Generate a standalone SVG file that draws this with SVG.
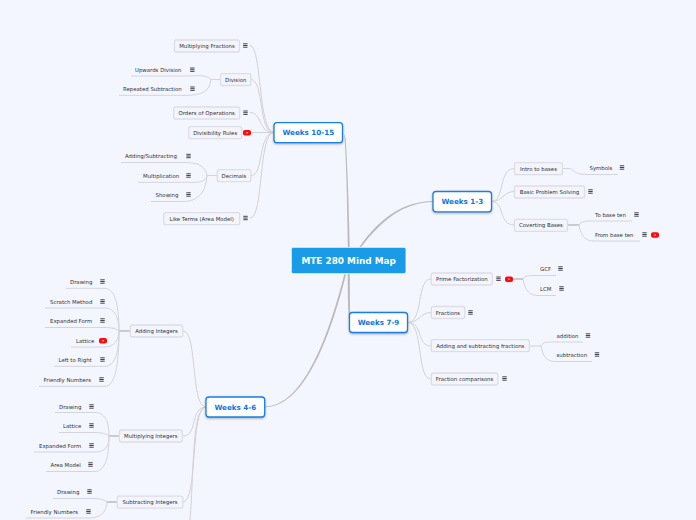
<svg xmlns="http://www.w3.org/2000/svg" width="696" height="520" viewBox="0 0 696 520">
<style>
text{font-family:"DejaVu Sans",Verdana,sans-serif;font-size:5.4px;fill:#2f2f36}
.b{fill:#f4f5fc;stroke:#dcdde6;stroke-width:1.3}
.w{fill:#fff;stroke:#1a7fe0;stroke-width:1.3;filter:drop-shadow(0 1px 1px rgba(0,0,0,.3))}
.wt{font-size:7.15px;font-weight:bold;fill:#0f76e2;text-anchor:middle}
.m{text-anchor:middle}
.c{fill:none;stroke:#d2d2d6;stroke-width:1}
.u{fill:none;stroke:#d4d4da;stroke-width:1}
.t{fill:#bababa}
.s{fill:none;stroke:#bcbcbc;stroke-width:1.5}
</style>
<defs>
<g id="i"><path d="M-2.2,-1.7H2.2M-2.2,0H2.2M-2.2,1.7H2.2" stroke="#22222a" stroke-width=".85" fill="none"/></g>
<g id="r"><rect x="-4" y="-2.8" width="8" height="5.6" rx="2" fill="#fb0a10"/><circle r=".8" fill="#ffd8d8"/></g>
</defs>
<rect width="696" height="520" fill="#f4f6ff"/>
<g id="connectors">
<path class="t" d="M347.8,247C347.3,200 346.200,165 344.700,140Q344.300,133.500 342.500,131.900L342.500,133.100Q345,134 345.800,140C347.300,165 348.800,200 349.800,247Z"/>
<path class="t" d="M359.400,247C380,218 403,201.500 433,201.100V201.900C404,202.200 381.500,220 360.800,247.600Z"/>
<path class="t" d="M347.700,274C347.800,295 348,315 349.500,322H351C349.800,312 349.900,295 349.800,274Z"/>
<path class="t" d="M344.400,274C330,330 305,406 265,406.500V407.200C306,407 331.500,332 346,274.500Z"/>
<path class="c" d="M250,45.500C262,45.500 258,132.500 274,132.500"/>
<path class="c" d="M251,79.500C264,79.500 258,132.500 274,132.500"/>
<path class="c" d="M250,112.500C262,112.500 258,132.500 274,132.500"/>
<path class="c" d="M251,132.500H274"/>
<path class="c" d="M251,175.500C264,175.500 258,132.500 274,132.500"/>
<path class="c" d="M250,218C264,218 258,132.500 274,132.500"/>
<path class="u" d="M131,76H187C198,76 205,74 211,79.500H220"/>
<path class="u" d="M119,95.300H187C200,95.300 210,92 211,79.500"/>
<path class="u" d="M121,162.500H183C195,162.500 205,164 207,175.500H217"/>
<path class="u" d="M138,182.300H183C195,182.300 205,184 207,175.500"/>
<path class="u" d="M151,201.500H183C198,201.500 206,192 207,175.500"/>
<path class="c" d="M491.500,201.500C505,201.500 498,168.500 514.500,168.500"/>
<path class="c" d="M491.500,201.500C503,201.500 503,191.500 514.500,191.500"/>
<path class="c" d="M491.500,201.500C505,201.500 498,225 514.500,225"/>
<path class="u" d="M563,168.500H570C575,171 575,174.500 587,174.500H618"/>
<path class="s" d="M568,225H579"/>
<path class="u" d="M579,225C581,221 586,221 592,221H632"/>
<path class="u" d="M579,225C581,237 586,241 594,241H640"/>
<path class="c" d="M407.500,322.500C424,322.500 416,279 431,279"/>
<path class="c" d="M407.500,322.500C420,322.500 420,312.500 431,312.500"/>
<path class="c" d="M407.500,322.500C424,322.500 416,346 431,346"/>
<path class="c" d="M407.500,322.500C424,322.500 416,379 431,379"/>
<path class="s" d="M513,279H523"/>
<path class="u" d="M523,279C525,275.500 530,275.500 535,275.500H556"/>
<path class="u" d="M523,279C525,291 530,295.500 538,295.500H556"/>
<path class="c" d="M529.500,346H541"/>
<path class="u" d="M541,346C543,342 547,342 553,342H583"/>
<path class="u" d="M541,346C543,357 547,361.500 555,361.500H592"/>
<path class="c" d="M183,331C198,331 190,407 206,407"/>
<path class="c" d="M183,436C198,436 190,407 206,407"/>
<path class="c" d="M183,502C198,502 190,407 206,407"/>
<path class="c" d="M190,520C194,470 192,407 206,407"/>
<path class="s" d="M119,331H130"/>
<path class="u" d="M66,288.300H105C113,288.300 119,300 119,331"/>
<path class="u" d="M45,308H105C115,308 119,318 119,331"/>
<path class="u" d="M45,327.500H105C112,327.500 117,329 119,331"/>
<path class="u" d="M71,347H105C114,347 119,340 119,331"/>
<path class="u" d="M54,366.300H105C114,366.300 119,355 119,331"/>
<path class="u" d="M39,386.300H105C115,386.300 119,365 119,331"/>
<path class="s" d="M109,436H119"/>
<path class="u" d="M55,412.500H95C104,412.500 109,420 109,436"/>
<path class="u" d="M59,432.500H95C102,432.500 107,434 109,436"/>
<path class="u" d="M34,452H95C104,452 109,448 109,436"/>
<path class="u" d="M46,471.500H95C104,471.500 109,460 109,436"/>
<path class="s" d="M107,502H117"/>
<path class="u" d="M53,498.500H93C99,498.500 103,499 107,502"/>
<path class="u" d="M26,518H90C100,518 107,512 107,502"/>
</g>
<g id="root"><rect x="291.300" y="247.300" width="114.700" height="26.400" rx="2" fill="#1a9be8" stroke="#fff" stroke-width=".8"/><text x="348.700" y="264" class="m" style="font-size:8.9px;font-weight:bold;fill:#fff">MTE 280 Mind Map</text></g>
<g id="w1015"><rect class="w" x="274" y="122.700" width="68.500" height="20" rx="3"/><text x="308.300" y="135.200" class="wt">Weeks 10-15</text></g>
<g id="w13"><rect class="w" x="433" y="191.500" width="58.500" height="20.300" rx="3"/><text x="462.300" y="204.200" class="wt">Weeks 1-3</text></g>
<g id="w79"><rect class="w" x="349.500" y="312.500" width="58" height="20" rx="3"/><text x="378.500" y="325.200" class="wt">Weeks 7-9</text></g>
<g id="w46"><rect class="w" x="206" y="397" width="58.700" height="20" rx="3"/><text x="235.300" y="409.700" class="wt">Weeks 4-6</text></g>
<g id="n1"><rect class="b" x="174.500" y="40" width="65" height="12" rx="2"/><text x="207" y="48" class="m">Multiplying Fractions</text><use href="#i" x="245.300" y="45.500"/></g>
<g id="n2"><rect class="b" x="220.500" y="73.700" width="30.300" height="11.800" rx="2"/><text x="235.700" y="81.700" class="m">Division</text></g>
<g id="n3"><text x="135" y="72">Upwards Division</text><use href="#i" x="192.300" y="69.700"/></g>
<g id="n4"><text x="123" y="91">Repeated Subtraction</text><use href="#i" x="192.500" y="88.700"/></g>
<g id="n5"><rect class="b" x="173.700" y="107" width="66" height="12" rx="2"/><text x="206.700" y="115" class="m">Orders of Operations</text><use href="#i" x="245.500" y="112.700"/></g>
<g id="n6"><rect class="b" x="188.700" y="126.700" width="53" height="12" rx="2"/><text x="215.200" y="134.700" class="m">Divisibility Rules</text><use href="#r" x="247" y="132.800"/></g>
<g id="n7"><rect class="b" x="217.300" y="169.700" width="33.500" height="12" rx="2"/><text x="234" y="178" class="m">Decimals</text></g>
<g id="n8"><text x="125" y="158">Adding/Subtracting</text><use href="#i" x="188.500" y="156"/></g>
<g id="n9"><text x="143" y="178">Multiplication</text><use href="#i" x="188.500" y="175.500"/></g>
<g id="n10"><text x="155.500" y="197">Showing</text><use href="#i" x="188.500" y="194.500"/></g>
<g id="n11"><rect class="b" x="163.700" y="212.700" width="76" height="12" rx="2"/><text x="201.700" y="221" class="m">Like Terms (Area Model)</text><use href="#i" x="245.500" y="218"/></g>
<g id="n12"><rect class="b" x="514.500" y="162.700" width="48" height="12" rx="2"/><text x="538.500" y="171" class="m">Intro to bases</text></g>
<g id="n13"><text x="589.500" y="170">Symbols</text><use href="#i" x="622" y="167.500"/></g>
<g id="n14"><rect class="b" x="514.500" y="186" width="70" height="12" rx="2"/><text x="549.500" y="194" class="m">Basic Problem Solving</text><use href="#i" x="590.500" y="191.500"/></g>
<g id="n15"><rect class="b" x="514.500" y="219.300" width="53" height="12" rx="2"/><text x="541" y="227.300" class="m">Coverting Bases</text></g>
<g id="n16"><text x="595" y="217">To base ten</text><use href="#i" x="636.500" y="214.500"/></g>
<g id="n17"><text x="595" y="237">From base ten</text><use href="#i" x="644.500" y="234.500"/><use href="#r" x="655" y="235"/></g>
<g id="n18"><rect class="b" x="431.300" y="273" width="61" height="12" rx="2"/><text x="461.800" y="281" class="m">Prime Factorization</text><use href="#i" x="498.500" y="278.700"/><use href="#r" x="509" y="279.200"/></g>
<g id="n19"><text x="540" y="271">GCF</text><use href="#i" x="560.500" y="268.500"/></g>
<g id="n20"><text x="540" y="291">LCM</text><use href="#i" x="561.500" y="288.500"/></g>
<g id="n21"><rect class="b" x="431.300" y="306.500" width="33.500" height="12" rx="2"/><text x="448" y="315" class="m">Fractions</text><use href="#i" x="470.500" y="312.500"/></g>
<g id="n22"><rect class="b" x="431.300" y="339.700" width="98" height="12" rx="2"/><text x="480.300" y="348" class="m">Adding and subtracting fractions</text></g>
<g id="n23"><text x="556.500" y="338">addition</text><use href="#i" x="588" y="335.500"/></g>
<g id="n24"><text x="556.500" y="357">subtraction</text><use href="#i" x="597" y="354.500"/></g>
<g id="n25"><rect class="b" x="431.300" y="373" width="66.500" height="12" rx="2"/><text x="464.500" y="381" class="m">Fraction comparisons</text><use href="#i" x="504.500" y="378.500"/></g>
<g id="n26"><rect class="b" x="130.300" y="325" width="52.500" height="12" rx="2"/><text x="156.500" y="333" class="m">Adding Integers</text></g>
<g id="n27"><text x="70" y="284">Drawing</text><use href="#i" x="102.500" y="281.500"/></g>
<g id="n28"><text x="50" y="304">Scratch Method</text><use href="#i" x="102.500" y="301.500"/></g>
<g id="n29"><text x="50" y="323">Expanded Form</text><use href="#i" x="102.500" y="320.500"/></g>
<g id="n30"><text x="76" y="343">Lattice</text><use href="#r" x="103" y="340.700"/></g>
<g id="n31"><text x="58.500" y="362">Left to Right</text><use href="#i" x="102.500" y="359.500"/></g>
<g id="n32"><text x="43.500" y="382">Friendly Numbers</text><use href="#i" x="101.500" y="379.500"/></g>
<g id="n33"><rect class="b" x="119.300" y="430" width="63" height="12" rx="2"/><text x="150.800" y="438" class="m">Multiplying Integers</text></g>
<g id="n34"><text x="59" y="409">Drawing</text><use href="#i" x="91.500" y="406.500"/></g>
<g id="n35"><text x="63" y="428">Lattice</text><use href="#i" x="91.500" y="425.500"/></g>
<g id="n36"><text x="39" y="448">Expanded Form</text><use href="#i" x="91.500" y="445.500"/></g>
<g id="n37"><text x="50.500" y="467">Area Model</text><use href="#i" x="90.500" y="464.500"/></g>
<g id="n38"><rect class="b" x="117.300" y="496.200" width="65.500" height="12" rx="2"/><text x="150" y="504" class="m">Subtracting Integers</text></g>
<g id="n39"><text x="57" y="494">Drawing</text><use href="#i" x="89.500" y="491.500"/></g>
<g id="n40"><text x="30.500" y="514">Friendly Numbers</text><use href="#i" x="88.500" y="511.500"/></g>
</svg>
